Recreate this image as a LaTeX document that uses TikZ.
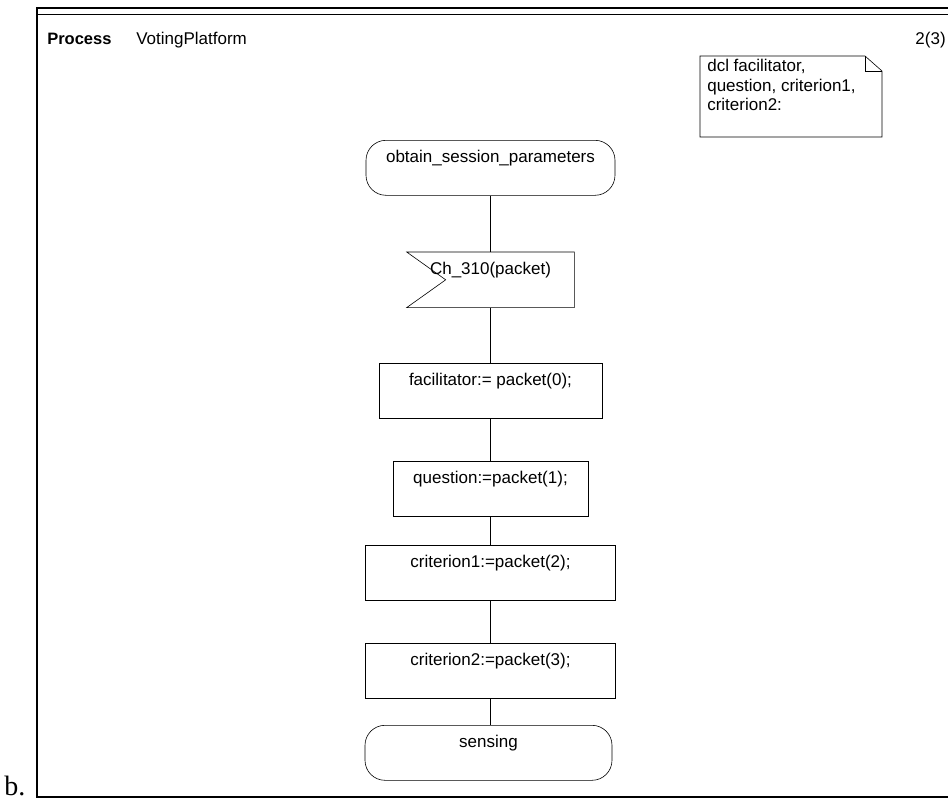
\documentclass[tikz,border=0pt]{standalone}
\usepackage{fontspec}
\setmainfont{Liberation Sans}
\newfontfamily\serifb{Liberation Serif}
\usetikzlibrary{calc}
\begin{document}
\begin{tikzpicture}[x=1pt,y=-1pt,font=\fontsize{17}{19.5}\selectfont,line width=0.6pt,
    sdlbox/.style={draw,inner sep=0pt,anchor=north,text height=22pt,text depth=33pt},
    statebox/.style={sdlbox,rounded corners=20pt}]
    \useasboundingbox (0,0) rectangle (948,800);
    % frame
    \draw[line width=2pt] (37,8.5)--(960,8.5) (37,7.5)--(37,797)--(960,797);
    \draw[line width=0.8pt] (37,14)--(960,14);
    \node[anchor=base west,inner sep=0pt,font=\fontsize{28}{30}\selectfont\serifb] (lbl) at (4,795) {b.};
    \node[anchor=base west,inner sep=0pt,font=\fontsize{16.5}{19}\selectfont\bfseries] (kind) at (47,45) {Process};
    \node[anchor=base west,inner sep=0pt] (pname) at (136,45) {VotingPlatform};
    \node[anchor=base east,inner sep=0pt] (page) at (946,45) {2(3)};
    % declarations
    \draw (700,56)--(865,56)--(882,71)--(882,137)--(700,137)--cycle;
    \draw (865,56)--(865,71)--(882,71);
    \node[anchor=north west,align=left,inner sep=0pt] (dcl) at (707,59) {dcl facilitator,\\question, criterion1,\\criterion2:};
    % flow
    \node[statebox,minimum width=249pt] (start) at (490.5,140) {obtain\_session\_parameters};
    \node[sdlbox,minimum width=167pt,draw=none] (sig) at (490.5,252) {Ch\_310(packet)};
    \draw (sig.north west)--(sig.north east)--(sig.south east)--(sig.south west)--($(sig.west)+(39,0)$)--cycle;
    \node[sdlbox,minimum width=223pt] (t0) at (490.5,363) {facilitator:= packet(0);};
    \node[sdlbox,minimum width=195pt] (t1) at (490.5,461) {question:=packet(1);};
    \node[sdlbox,minimum width=250pt] (t2) at (490.5,545) {criterion1:=packet(2);};
    \node[sdlbox,minimum width=250pt] (t3) at (490.5,643) {criterion2:=packet(3);};
    \node[statebox,minimum width=247pt] (next) at (488.5,725) {sensing};
    \draw (start.south)--(sig.north) (sig.south)--(t0.north) (t0.south)--(t1.north)
          (t1.south)--(t2.north) (t2.south)--(t3.north) (t3.south)--(t3.south|-next.north);
\end{tikzpicture}
\end{document}
